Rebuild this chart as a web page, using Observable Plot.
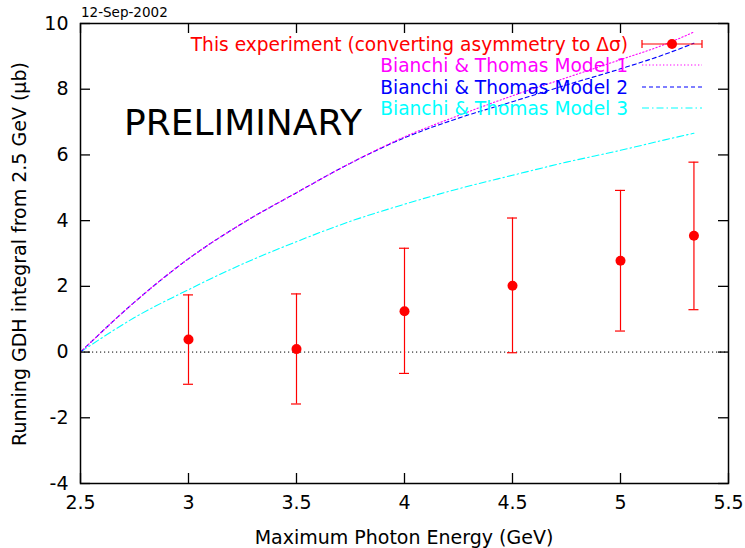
<!DOCTYPE html>
<html>
<head>
<meta charset="utf-8">
<script src="https://cdn.jsdelivr.net/npm/d3@7"></script>
<script src="https://cdn.jsdelivr.net/npm/@observablehq/plot@0.6"></script>
<style>
  body { margin: 0; background: #fff; }
  svg { display: block; }
</style>
</head>
<body>
<div id="chart"></div>
<script>
// ---- data ----
const xTicks = [2.5, 3, 3.5, 4, 4.5, 5, 5.5];
const yTicks = [-4, -2, 0, 2, 4, 6, 8, 10];

const energy  = [3, 3.5, 4, 4.5, 5, 5.34];
const gdh     = [0.38, 0.09, 1.24, 2.02, 2.78, 3.54];
const errLow  = [-0.98, -1.58, -0.65, -0.02, 0.64, 1.29];
const errHigh = [1.74, 1.77, 3.16, 4.08, 4.92, 5.78];

const modelX = [2.5, 2.75, 3, 3.25, 3.5, 3.75, 4, 4.25, 4.5, 4.75, 5, 5.2, 5.34];
const model1 = [0, 1.52, 2.84, 3.92, 4.85, 5.75, 6.55, 7.2, 7.8, 8.35, 8.9, 9.35, 9.74];
const model2 = [0, 1.52, 2.84, 3.92, 4.85, 5.75, 6.52, 7.12, 7.62, 8.13, 8.62, 9.05, 9.4];
const model3 = [0, 1.05, 1.9, 2.68, 3.36, 3.98, 4.5, 4.97, 5.38, 5.78, 6.14, 6.45, 6.66];

const legendLabels = [
  "This experiment (converting asymmetry to \u0394\u03c3)",
  "Bianchi & Thomas Model 1",
  "Bianchi & Thomas Model 2",
  "Bianchi & Thomas Model 3"
];
const xLabel = "Maximum Photon Energy (GeV)";
const yLabel = "Running GDH integral from 2.5 GeV (\u03bcb)";
const dateText = "12-Sep-2002";
const stampText = "PRELIMINARY";

// ---- tables ----
const points = energy.map((x, i) => ({x, y: gdh[i], lo: errLow[i], hi: errHigh[i]}));
const curve = (ys) => modelX.map((x, i) => ({x, y: ys[i]}));

const W = 745, H = 548;
const mL = 80, mR = 17, mT = 23, mB = 65;
const innerW = W - mL - mR, innerH = H - mT - mB;
const FONT = "DejaVu Sans, sans-serif";

const chart = Plot.plot({
  width: W, height: H,
  marginLeft: mL, marginRight: mR, marginTop: mT, marginBottom: mB,
  style: {fontFamily: FONT, fontSize: "19px", color: "#000", background: "#fff"},
  x: {domain: [2.5, 5.5], ticks: xTicks},
  y: {domain: [-4, 10], ticks: yTicks},
  marks: [
    Plot.ruleY([0], {stroke: "#000", strokeWidth: 1, strokeDasharray: "1.2,2.8"}),
    Plot.line(curve(model3), {x: "x", y: "y", stroke: "#00ffff", strokeWidth: 1.1, strokeDasharray: "7,3,1.5,3", curve: "monotone-x"}),
    Plot.line(curve(model2), {x: "x", y: "y", stroke: "#0000ff", strokeWidth: 1.1, strokeDasharray: "4,3", curve: "monotone-x"}),
    Plot.line(curve(model1), {x: "x", y: "y", stroke: "#ff00ff", strokeWidth: 1.1, strokeDasharray: "1.3,2.2", curve: "monotone-x"}),
    Plot.ruleX(points, {x: "x", y1: "lo", y2: "hi", stroke: "#ff0000", strokeWidth: 1.2}),
    Plot.ruleY(points, {y: "lo", x1: "x", x2: "x", insetLeft: -5, insetRight: -5, stroke: "#ff0000", strokeWidth: 1.2}),
    Plot.ruleY(points, {y: "hi", x1: "x", x2: "x", insetLeft: -5, insetRight: -5, stroke: "#ff0000", strokeWidth: 1.2}),
    Plot.dot(points, {x: "x", y: "y", r: 5, fill: "#ff0000", stroke: "none"}),
    // inward ticks on all sides
    Plot.tickX(xTicks, {x: d => d, insetTop: innerH - 10, stroke: "#000", strokeWidth: 1.3}),
    Plot.tickX(xTicks, {x: d => d, insetBottom: innerH - 10, stroke: "#000", strokeWidth: 1.3}),
    Plot.tickY(yTicks, {y: d => d, insetRight: innerW - 10, stroke: "#000", strokeWidth: 1.3}),
    Plot.tickY(yTicks, {y: d => d, insetLeft: innerW - 10, stroke: "#000", strokeWidth: 1.3}),
    Plot.axisX({ticks: xTicks, tickSize: 0, tickPadding: 12, label: null, tickFormat: d => String(d), fontSize: 19}),
    Plot.axisY({ticks: yTicks, tickSize: 0, tickPadding: 12, label: null, tickFormat: d => String(d), fontSize: 19}),
    Plot.frame({stroke: "#000", strokeWidth: 1.5})
  ]
});

document.getElementById("chart").appendChild(chart);

// ---- annotations and legend ----
const svg = d3.select(chart);
const g = svg.append("g").attr("font-family", FONT).attr("text-anchor", "start");

g.append("text").attr("x", 81).attr("y", 17).attr("text-anchor", "start")
  .attr("font-size", 13.5).attr("fill", "#000").text(dateText);

g.append("text").attr("x", 124).attr("y", 135).attr("text-anchor", "start")
  .attr("font-size", 36).attr("fill", "#000").text(stampText);

g.append("text").attr("x", 404).attr("y", 537).attr("text-anchor", "middle")
  .attr("dominant-baseline", "central").attr("font-size", 19).attr("fill", "#000").text(xLabel);

g.append("text").attr("transform", "translate(19,254) rotate(-90)").attr("text-anchor", "middle")
  .attr("dominant-baseline", "central").attr("font-size", 19).attr("fill", "#000").text(yLabel);

const legColors = ["#ff0000", "#ff00ff", "#0000ff", "#00ffff"];
const legDash = [null, "1.3,2.2", "4,3", "7,3,1.5,3"];
const legY = [44, 65, 87, 108];
const lx1 = 642, lx2 = 702, textX = 628;
legendLabels.forEach((lab, i) => {
  g.append("text").attr("x", textX).attr("y", legY[i]).attr("text-anchor", "end")
    .attr("dy", "0.36em").attr("font-size", 18.6).attr("fill", legColors[i]).text(lab);
  if (i === 0) {
    g.append("line").attr("x1", lx1).attr("x2", lx2).attr("y1", legY[i]).attr("y2", legY[i])
      .attr("stroke", "#ff0000").attr("stroke-width", 1.2);
    [lx1, lx2].forEach(x => g.append("line").attr("x1", x).attr("x2", x)
      .attr("y1", legY[i] - 4).attr("y2", legY[i] + 4).attr("stroke", "#ff0000").attr("stroke-width", 1.2));
    g.append("circle").attr("cx", (lx1 + lx2) / 2).attr("cy", legY[i]).attr("r", 5).attr("fill", "#ff0000");
  } else {
    g.append("line").attr("x1", lx1).attr("x2", lx2).attr("y1", legY[i]).attr("y2", legY[i])
      .attr("stroke", legColors[i]).attr("stroke-width", 1.1).attr("stroke-dasharray", legDash[i]);
  }
});
</script>
</body>
</html>
